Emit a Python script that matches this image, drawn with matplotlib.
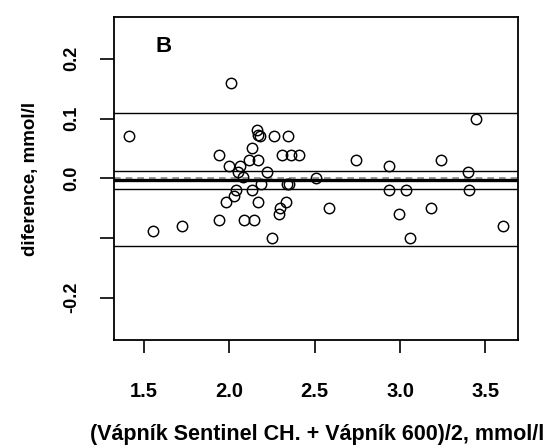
import matplotlib
matplotlib.use("Agg")
import matplotlib.pyplot as plt

# Bland-Altman data: mean of methods (x) and difference (y)
mean_vals = [1.41, 2.01, 3.445, 2.16, 2.18, 2.17, 2.26, 2.345, 2.133, 1.94,
             2.113, 2.165, 2.307, 2.359, 2.41, 2.00, 2.06, 2.052, 2.223, 2.08,
             2.184, 2.04, 2.13, 2.025, 1.978, 2.17, 1.941, 2.086, 2.144, 1.555,
             1.721, 2.248, 2.33, 2.297, 2.289, 2.338, 2.352, 2.508, 2.582, 2.742,
             2.937, 3.24, 3.40, 2.937, 3.035, 3.404, 2.996, 3.18, 3.058, 3.605]
diff_vals = [0.07, 0.16, 0.10, 0.08, 0.07, 0.073, 0.07, 0.07, 0.05, 0.039,
             0.03, 0.03, 0.039, 0.039, 0.039, 0.02, 0.02, 0.01, 0.01, 0.002,
             -0.01, -0.019, -0.02, -0.029, -0.04, -0.04, -0.07, -0.07, -0.07, -0.089,
             -0.08, -0.10, -0.04, -0.05, -0.06, -0.01, -0.01, 0.0, -0.05, 0.03,
             0.02, 0.03, 0.01, -0.02, -0.02, -0.02, -0.06, -0.05, -0.10, -0.08]

mean_diff = -0.003
ci_lines = [0.012, -0.018]
loa_lines = [0.109, -0.113]

x_ticks = [1.5, 2.0, 2.5, 3.0, 3.5]
x_ticklabels = ["1.5", "2.0", "2.5", "3.0", "3.5"]
y_ticks = [0.2, 0.1, 0.0, -0.1, -0.2]
y_ticklabels = ["0.2", "0.1", "0.0", "", "-0.2"]

plt.rcParams['font.family'] = ['Liberation Sans', 'DejaVu Sans']

fig = plt.figure(figsize=(5.5, 4.48), dpi=100)
ax = fig.add_axes([0.2073, 0.2411, 0.7345, 0.7209])

ax.axhline(0.0, color='#888888', lw=1.2, ls=(0, (4, 3)), zorder=1)
ax.axhline(mean_diff, color='black', lw=2.4, zorder=2)
for v in ci_lines:
    ax.axhline(v, color='black', lw=1.0, zorder=2)
for v in loa_lines:
    ax.axhline(v, color='black', lw=1.0, zorder=2)

ax.plot(mean_vals, diff_vals, 'o', mfc='none', mec='black', ms=7.5, mew=1.05, zorder=3)

ax.set_xlim(1.324, 3.691)
ax.set_ylim(-0.271, 0.270)
ax.set_xticks(x_ticks)
ax.set_xticklabels(x_ticklabels, fontsize=14.5, fontweight='bold')
ax.set_yticks(y_ticks)
ax.set_yticklabels(y_ticklabels, fontsize=13, fontweight='bold', rotation=90, va='center')
ax.tick_params(axis='x', length=9, width=1.2, pad=21)
ax.tick_params(axis='y', length=10, width=1.2, pad=14)
for s in ax.spines.values():
    s.set_linewidth(1.3)

ax.text(1.613, 0.220, "B", fontsize=16, fontweight='bold', ha='center', va='center')

ax.set_ylabel("diference, mmol/l", fontsize=13.5, fontweight='bold', labelpad=18)
fig.text(0.577, 0.031, "(Vápník Sentinel CH. + Vápník 600)/2, mmol/l",
         fontsize=15.5, fontweight='bold', ha='center', va='center')

fig.savefig("out.png", dpi=100)
